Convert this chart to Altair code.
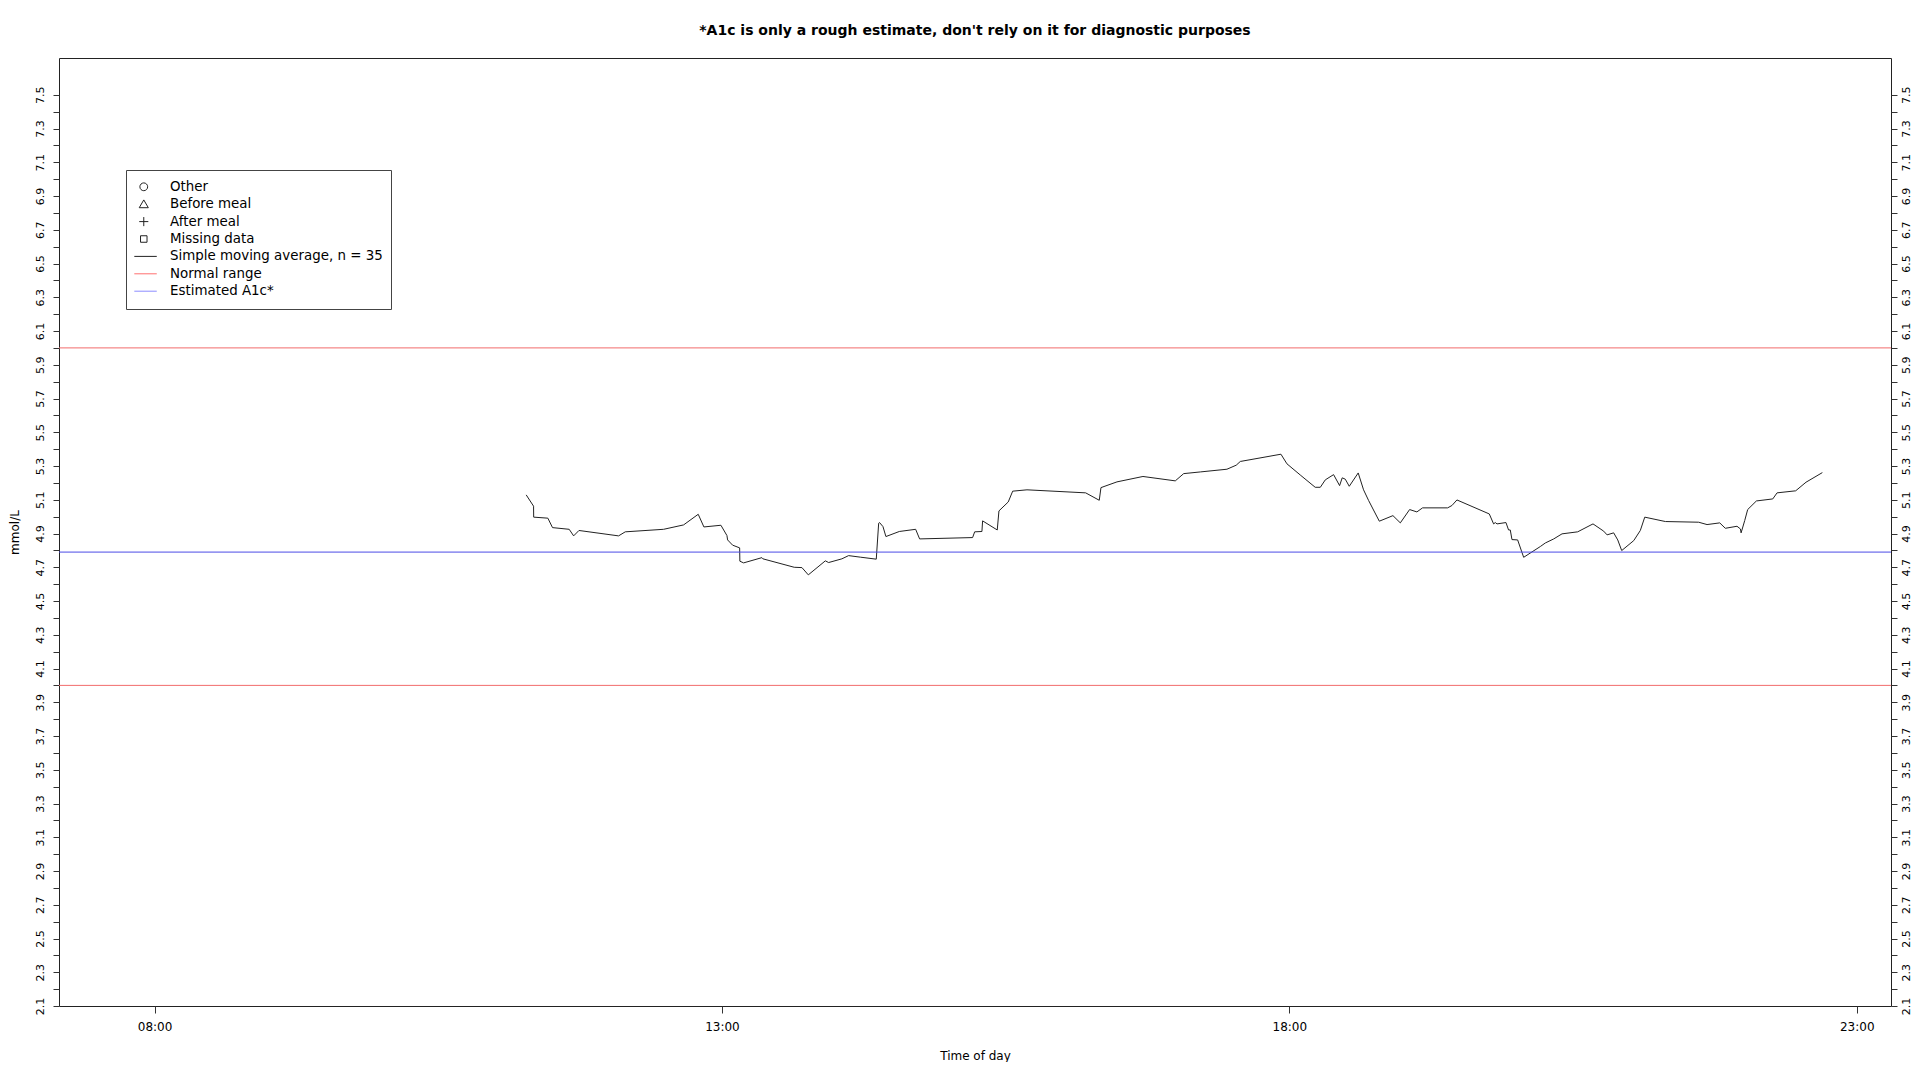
import altair as alt
import pandas as pd

# ---- data ----
hours = [11.275, 11.340, 11.341, 11.466, 11.507, 11.654, 11.693, 11.740, 12.089, 12.148,
         12.486, 12.662, 12.791, 12.841, 12.991, 13.044, 13.050, 13.094, 13.156, 13.158,
         13.191, 13.352, 13.361, 13.637, 13.705, 13.761, 13.911, 13.940, 14.057, 14.116,
         14.219,
         14.360, 14.381, 14.389, 14.419, 14.445, 14.563, 14.707, 14.742, 15.209, 15.227,
         15.291, 15.297, 15.426, 15.441, 15.523, 15.562, 15.688, 16.205, 16.325, 16.340,
         16.481, 16.710, 16.995, 17.069, 17.216,
         17.450, 17.532, 17.568, 17.926, 17.979, 18.096, 18.228, 18.273, 18.317, 18.390,
         18.443, 18.466, 18.493, 18.528, 18.607, 18.654, 18.699, 18.793, 18.913, 18.978,
         19.060, 19.124, 19.174, 19.395, 19.433, 19.477, 19.762, 19.800, 19.815, 19.830,
         19.909, 19.932, 19.947, 19.962, 20.012, 20.065,
         20.212, 20.256, 20.330, 20.403, 20.541, 20.676, 20.770, 20.800, 20.858, 20.894,
         20.929, 21.035, 21.093, 21.132, 21.314, 21.607, 21.681, 21.793, 21.842, 21.945,
         21.975, 21.981, 22.013, 22.039, 22.116, 22.260, 22.298, 22.462, 22.553, 22.697]

sma = [5.129, 5.062, 4.997, 4.991, 4.935, 4.925, 4.886, 4.918, 4.886, 4.910,
       4.925, 4.951, 5.014, 4.939, 4.949, 4.888, 4.862, 4.831, 4.815, 4.736,
       4.726, 4.757, 4.750, 4.700, 4.698, 4.655, 4.738, 4.728, 4.750, 4.769,
       4.760,
       4.748, 4.961, 4.965, 4.941, 4.882, 4.912, 4.925, 4.868, 4.876, 4.910,
       4.912, 4.975, 4.921, 5.034, 5.087, 5.151, 5.159, 5.141, 5.097, 5.172,
       5.206, 5.238, 5.212, 5.255, 5.265,
       5.281, 5.305, 5.327, 5.370, 5.313, 5.247, 5.174, 5.174, 5.218, 5.249,
       5.184, 5.230, 5.222, 5.180, 5.259, 5.159, 5.095, 4.973, 5.006, 4.963,
       5.042, 5.028, 5.052, 5.052, 5.066, 5.099, 5.016, 4.957, 4.965, 4.957,
       4.965, 4.921, 4.921, 4.864, 4.862, 4.759,
       4.823, 4.844, 4.868, 4.898, 4.910, 4.957, 4.914, 4.892, 4.904, 4.862,
       4.799, 4.858, 4.918, 4.997, 4.971, 4.967, 4.953, 4.963, 4.931, 4.943,
       4.927, 4.904, 4.977, 5.042, 5.093, 5.105, 5.141, 5.153, 5.204, 5.261]

normal_range = [4.0, 6.0]
est_a1c = [4.79]

x_tick_hours = [8, 13, 18, 23]
y_tick_values = [round(2.1 + 0.1 * i, 1) for i in range(55)]

legend_labels = ["Other", "Before meal", "After meal", "Missing data",
                 "Simple moving average, n = 35", "Normal range", "Estimated A1c*"]
legend_paths = [
    "M-0.01,0A0.3,0.3 0 1,1 -0.61,0A0.3,0.3 0 1,1 -0.01,0Z",
    "M-0.31,-0.33L0.04,0.27L-0.66,0.27Z",
    "M-0.66,0H0.04M-0.31,-0.35V0.35",
    "M-0.56,-0.25H-0.06V0.25H-0.56Z",
    "M-1.31,0H0.69",
    "M-1.31,0H0.69",
    "M-1.31,0H0.69",
]
legend_colors = ["#222222", "#222222", "#222222", "#222222", "#222222", "#ff7070", "#8c8cff"]

title_text = "*A1c is only a rough estimate, don't rely on it for diagnostic purposes"
FONT = "DejaVu Sans"
RED = "#f26b6b"
BLUE = "#4a4ae6"

# ---- scales ----
x_scale = alt.Scale(domain=[7.158, 23.302], nice=False, zero=False)
y_scale = alt.Scale(domain=[2.1, 7.718], nice=False, zero=False)

label_expr_y = "(round(datum.value * 10) % 2 == 1) ? format(datum.value, '.1f') : ''"

x_axis = alt.Axis(
    orient="bottom", values=x_tick_hours, title="Time of day",
    labelExpr="(datum.value < 10 ? '0' : '') + datum.value + ':00'",
    tickSize=7, labelPadding=8, labelFontSize=12, labelFlush=False,
    domain=False, grid=False, tickColor="#333333",
    titleFontSize=12, titleFontWeight="normal", titleY=49, titleBaseline="middle",
)

y_axis_left = alt.Axis(
    orient="left", values=y_tick_values, labelExpr=label_expr_y, title="mmol/L",
    tickSize=6, labelPadding=8, labelAngle=270, labelAlign="center", labelBaseline="bottom",
    labelFontSize=11, domain=False, grid=False, tickColor="#333333",
    titleFontSize=12, titleFontWeight="normal", titleX=-45, titleY=474,
    titleAngle=270, titleBaseline="middle", titleAlign="center",
)

y_axis_right = alt.Axis(
    orient="right", values=y_tick_values, labelExpr=label_expr_y, title="",
    tickSize=6, labelPadding=3, labelAngle=270, labelAlign="center", labelBaseline="top",
    labelFontSize=11, domain=False, grid=False, tickColor="#333333",
)

df = pd.DataFrame({"hour": hours, "sma": sma, "idx": list(range(len(hours)))})

line = alt.Chart(df).mark_line(color="#222222", strokeWidth=1).encode(
    x=alt.X("hour:Q", scale=x_scale, axis=x_axis),
    y=alt.Y("sma:Q", scale=y_scale, axis=y_axis_left),
    order=alt.Order("idx:Q"),
)

red_rules = alt.Chart(pd.DataFrame({"v": normal_range})).mark_rule(
    color=RED, strokeWidth=1
).encode(y=alt.Y("v:Q", scale=y_scale, axis=y_axis_right))

blue_rule = alt.Chart(pd.DataFrame({"a1c": est_a1c})).mark_rule(
    color=BLUE, strokeWidth=1
).encode(y=alt.Y("a1c:Q", scale=y_scale, axis=None))

leg = alt.Legend(
    title=None, orient="none", legendX=67, legendY=112, padding=8.3,
    fillColor="white", strokeColor="#444444", symbolSize=676, symbolStrokeWidth=1,
    clipHeight=17, rowPadding=0.4, labelFont=FONT, labelFontSize=13.4,
    labelOffset=8.7, labelColor="black", labelLimit=400, symbolOpacity=1,
)

legend_layer = alt.Chart(pd.DataFrame({"entry": legend_labels})).mark_point(
    opacity=0, filled=False
).encode(
    shape=alt.Shape("entry:N", scale=alt.Scale(domain=legend_labels, range=legend_paths),
                    legend=leg, sort=legend_labels),
    color=alt.Color("entry:N", scale=alt.Scale(domain=legend_labels, range=legend_colors),
                    legend=leg, sort=legend_labels),
)

chart = alt.layer(line, red_rules, blue_rule, legend_layer).resolve_axis(
    y="independent"
).properties(
    width=1832, height=948,
    title=alt.TitleParams(title_text, font=FONT, fontSize=14, fontWeight="bold",
                          anchor="middle", offset=6.5, baseline="bottom", color="black"),
    autosize=alt.AutoSizeParams(type="none"),
    padding={"left": 51, "top": 50, "right": 21, "bottom": 56},
).configure_view(
    stroke="#222222", strokeWidth=1
).configure_axis(
    labelFont=FONT, titleFont=FONT, labelColor="black", titleColor="black"
)

chart.save("out.html", embed_options={"renderer": "svg", "actions": False})
